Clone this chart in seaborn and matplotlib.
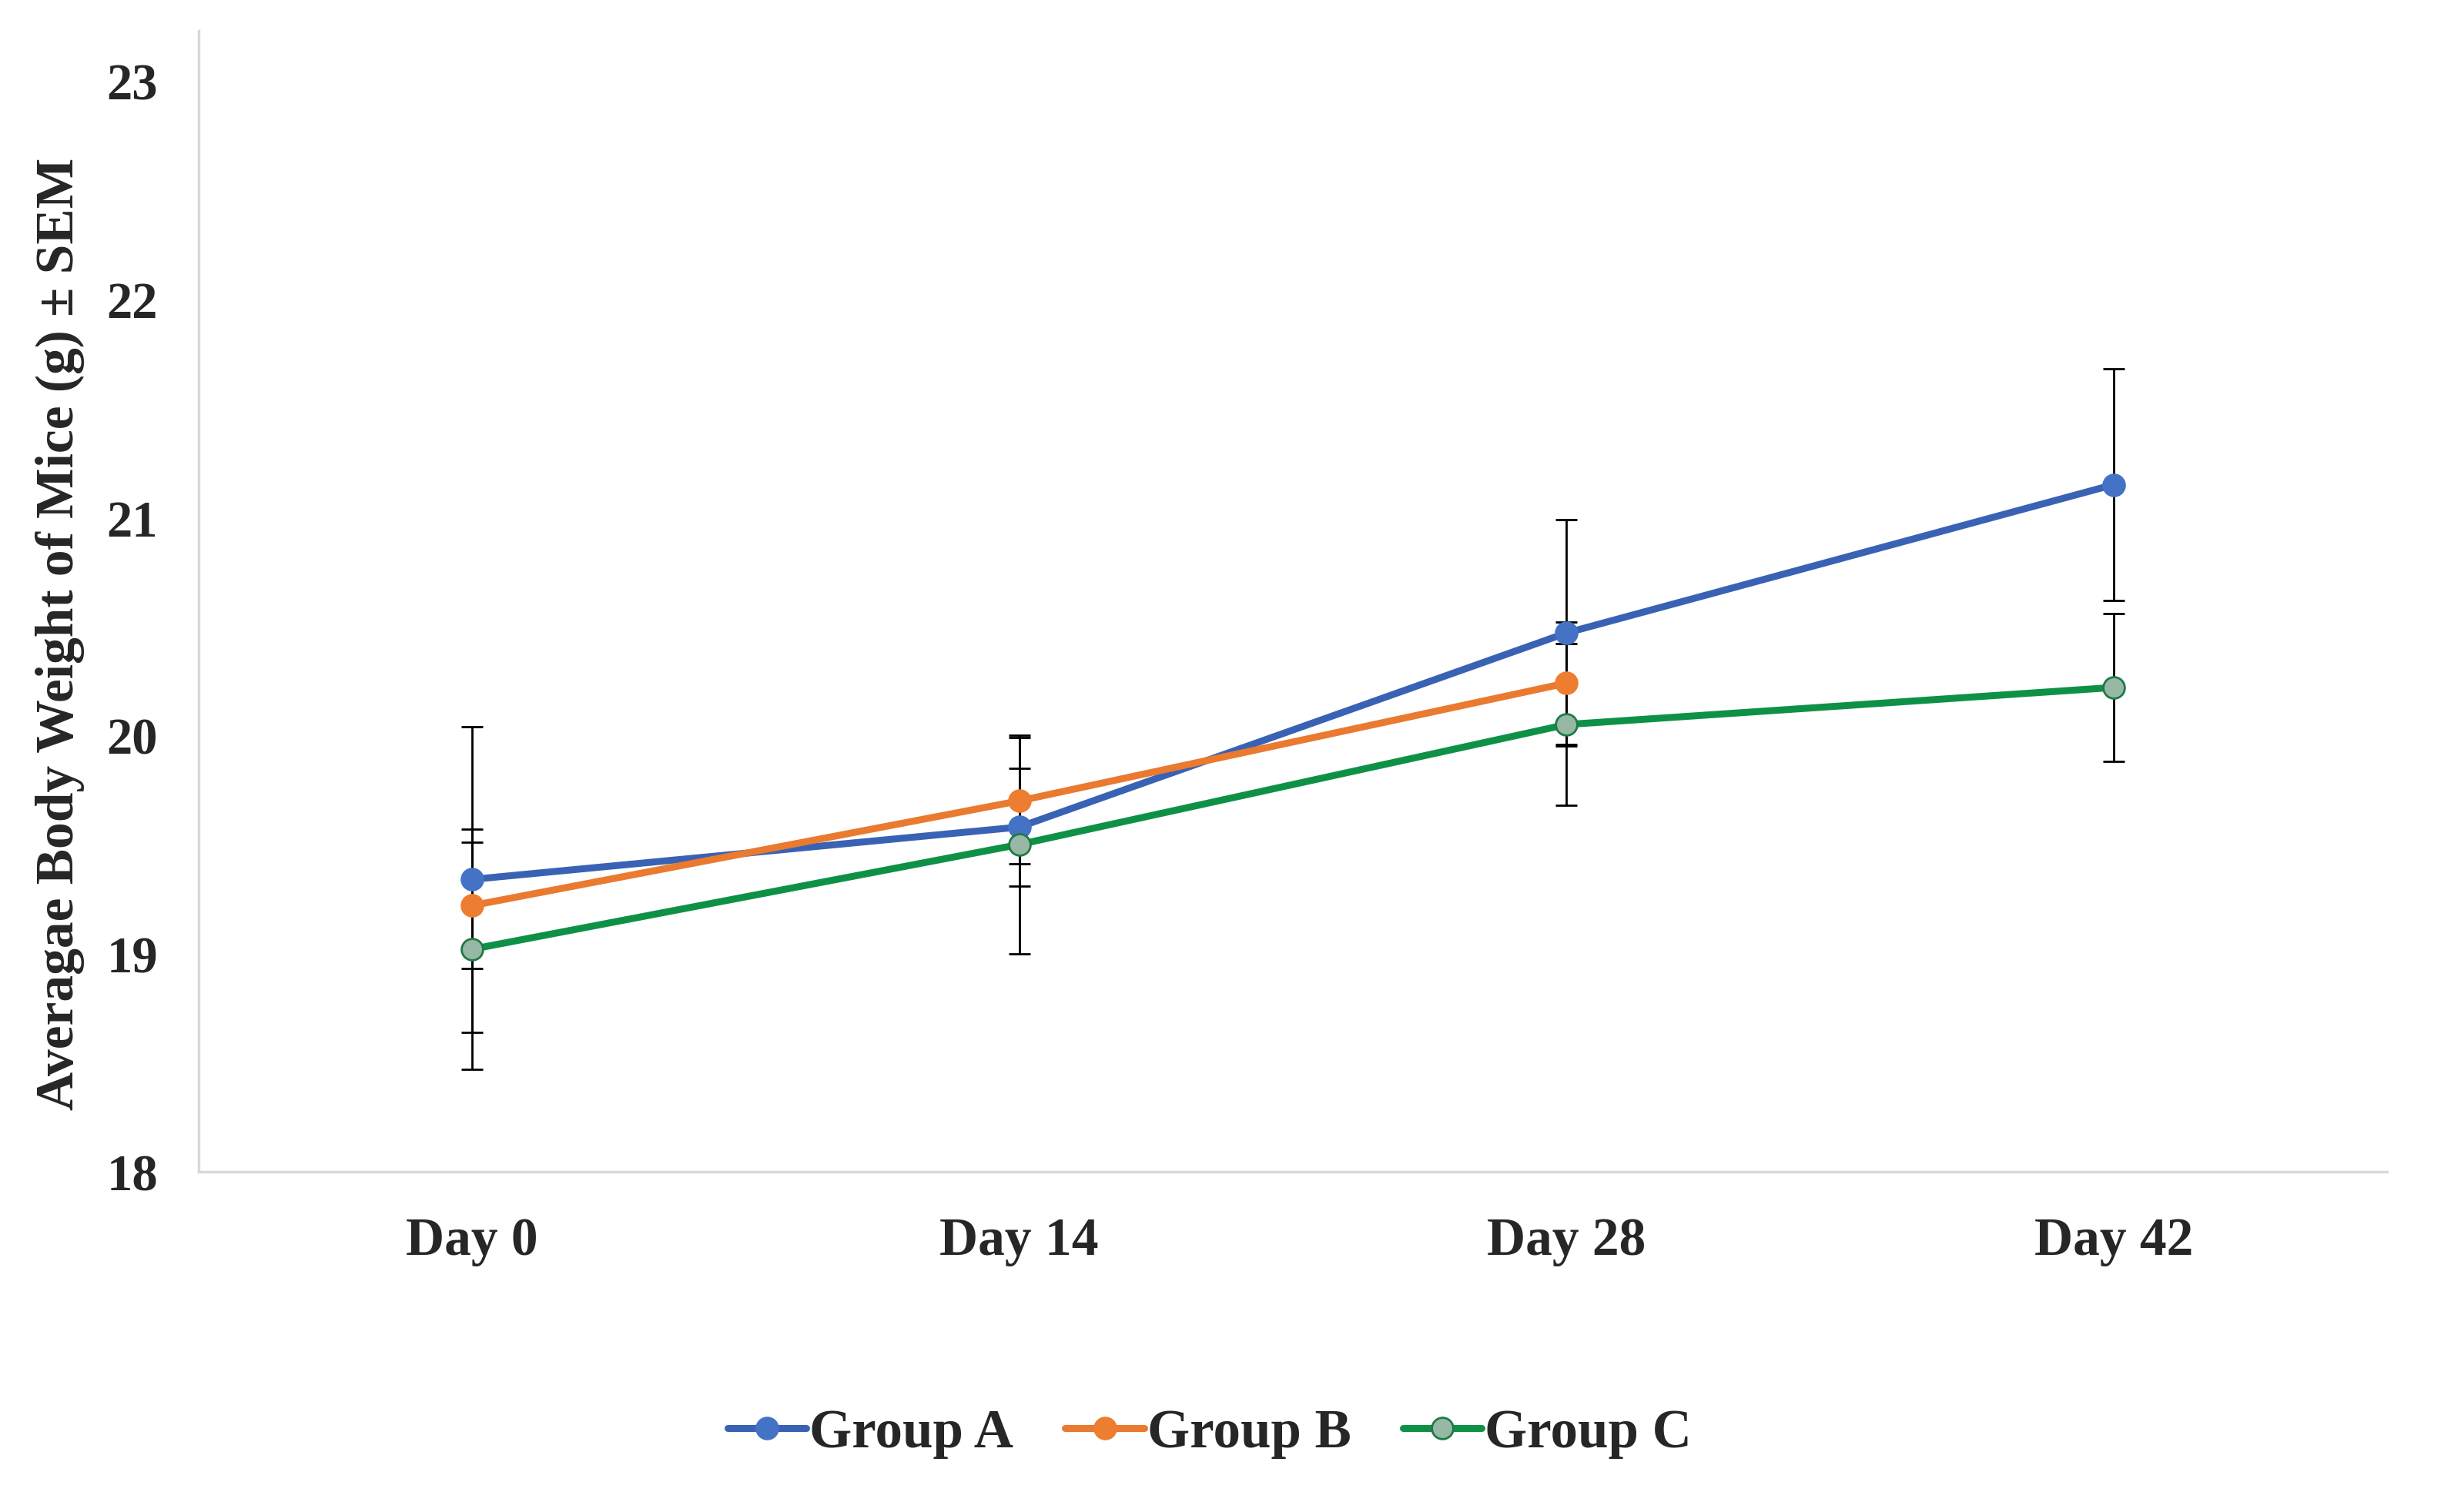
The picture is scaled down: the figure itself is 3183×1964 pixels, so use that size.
import matplotlib
matplotlib.use("Agg")
import matplotlib.pyplot as plt
import seaborn as sns
import numpy as np
import pandas as pd

# values
days = ["Day 0", "Day 14", "Day 28", "Day 42"]
groups = ["Group A", "Group B", "Group C"]

group_a_mean = [19.34, 19.58, 20.47, 21.15]
group_a_sem = [0.70, 0.27, 0.52, 0.53]
group_b_mean = [19.22, 19.70, 20.24, np.nan]
group_b_sem = [0.29, 0.29, 0.28, np.nan]
group_c_mean = [19.02, 19.50, 20.05, 20.22]
group_c_sem = [0.55, 0.50, 0.37, 0.34]

y_ticks = [18, 19, 20, 21, 22, 23]

line_colors = ["#3A62B4", "#E97A2F", "#0E9147"]
marker_faces = ["#4472C4", "#ED7D31", "#97B8A4"]
marker_edges = ["#4472C4", "#ED7D31", "#1E7A46"]

df = pd.DataFrame({
    "day": days * 3,
    "group": np.repeat(groups, len(days)),
    "weight": group_a_mean + group_b_mean + group_c_mean,
    "sem": group_a_sem + group_b_sem + group_c_sem,
}).dropna()

sns.set_style("white")
plt.rcParams["font.family"] = ["Liberation Serif", "DejaVu Serif"]
plt.rcParams["font.weight"] = "bold"

fig = plt.figure(figsize=(31.83, 19.65), dpi=100)
ax = fig.add_axes([0.081, 0.225, 0.893, 0.754])

sns.lineplot(data=df, x="day", y="weight", hue="group", hue_order=groups,
             palette=line_colors, marker="o", markersize=20, linewidth=6.5,
             sort=False, legend=False, ax=ax, zorder=3)

for i, g in enumerate(groups):
    sub = df[df["group"] == g]
    ax.errorbar(sub["day"], sub["weight"], yerr=sub["sem"], fmt="none",
                ecolor="black", elinewidth=2, capsize=10, capthick=2, zorder=2)

for line, fc, ec in zip(ax.lines[:3], marker_faces, marker_edges):
    line.set_markerfacecolor(fc)
    line.set_markeredgecolor(ec)
    line.set_markeredgewidth(2)

ax.set_xlim(-0.5, 3.5)
ax.set_ylim(18, 23.23)
ax.set_yticks(y_ticks)
ax.set_xlabel("")
ax.set_ylabel("Averagae Body Weight of Mice (g) ± SEM", fontsize=50,
              fontweight="bold", color="#262626")
ax.yaxis.set_label_coords(-0.052, 0.472)

ax.tick_params(axis="x", length=0, pad=42, labelsize=50, labelcolor="#262626")
ax.tick_params(axis="y", length=0, pad=38, labelsize=48, labelcolor="#262626")
for lab in ax.get_xticklabels() + ax.get_yticklabels():
    lab.set_fontweight("bold")

sns.despine(ax=ax)
for side in ["left", "bottom"]:
    ax.spines[side].set_color("#D9D9D9")
    ax.spines[side].set_linewidth(2.5)

fig.legend(handles=ax.lines[:3], labels=groups, loc="center",
           bbox_to_anchor=(0.4935, 0.052), ncol=3, frameon=False,
           prop={"family": "Liberation Serif", "weight": "bold", "size": 51},
           handlelength=1.45, handletextpad=0.05, columnspacing=0.95,
           labelcolor="#262626")

fig.savefig("out.png", dpi=100, facecolor="white")
